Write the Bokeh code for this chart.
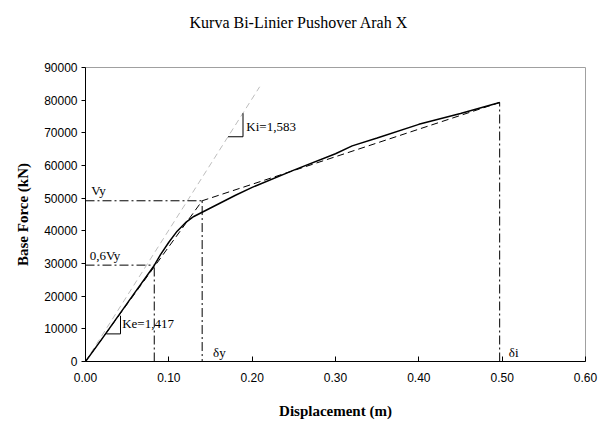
from bokeh.plotting import figure
from bokeh.models import FixedTicker, NumeralTickFormatter, Range1d, Title
from bokeh.core.properties import value
from bokeh.embed import file_html
from bokeh.resources import INLINE

# Pushover capacity curve (displacement m, base force kN)
disp = [0.0, 0.02, 0.04, 0.06, 0.0825, 0.09, 0.10, 0.11, 0.12, 0.13, 0.14, 0.15,
        0.16, 0.18, 0.20, 0.25, 0.30, 0.32, 0.35, 0.40, 0.45, 0.497]
force = [0, 7000, 14200, 21400, 29400, 32700, 36500, 39900, 42500, 44400, 45700, 47000,
         48300, 50900, 53300, 58600, 63600, 66000, 68400, 72600, 75900, 79300]

# Bi-linear idealisation
bil_x = [0.0, 0.140, 0.497]
bil_y = [0, 49200, 79300]

# Initial stiffness line
ki_x = [0.0, 0.209]
ki_y = [0, 84100]

vy = 49200
vy06 = 29500
d_y = 0.140
d_06 = 0.0825
d_i = 0.497

x_ticks = [0.0, 0.1, 0.2, 0.3, 0.4, 0.5, 0.6]
y_ticks = [0, 10000, 20000, 30000, 40000, 50000, 60000, 70000, 80000, 90000]

serif = "Liberation Serif"
sans = "Liberation Sans"

p = figure(width=601, height=421, output_backend="svg", toolbar_location=None,
           x_range=Range1d(0, 0.6), y_range=Range1d(0, 90000),
           min_border_left=85, min_border_right=16, min_border_top=67, min_border_bottom=60,
           title="Kurva Bi-Linier Pushover Arah X")
p.title.align = "left"
p.title.offset = 104
p.title.text_font = serif
p.title.text_font_style = "normal"
p.title.text_font_size = "16px"
p.title.text_color = "black"

# empty spacer between the title and the frame
p.add_layout(Title(text="\u00a0", text_font_size="18px"), "above")

p.grid.visible = False
p.outline_line_color = "#a0a0a0"
p.background_fill_color = "white"
p.border_fill_color = "white"

p.xaxis.ticker = FixedTicker(ticks=x_ticks)
p.xaxis.formatter = NumeralTickFormatter(format="0.00")
p.yaxis.ticker = FixedTicker(ticks=y_ticks)
p.yaxis.formatter = NumeralTickFormatter(format="0")
for ax in (p.xaxis, p.yaxis):
    ax.minor_tick_line_color = None
    ax.axis_line_color = "black"
    ax.major_tick_line_color = "black"
    ax.major_label_text_font = sans
    ax.major_label_text_font_size = "12px"
    ax.major_label_text_color = "black"
    ax.axis_label_text_font = serif
    ax.axis_label_text_font_style = "bold"
    ax.axis_label_text_font_size = "15px"
    ax.axis_label_text_color = "black"
p.xaxis.major_tick_in = 5
p.xaxis.major_tick_out = 0
p.xaxis.major_label_standoff = 11
p.xaxis.axis_label = "Displacement (m)"
p.xaxis.axis_label_standoff = 18
p.yaxis.major_tick_in = 0
p.yaxis.major_tick_out = 4
p.yaxis.major_label_standoff = 4
p.yaxis.axis_label = "Base Force (kN)"
p.yaxis.axis_label_standoff = 10

# initial stiffness (light grey dashed)
p.line(ki_x, ki_y, line_color="#bdbdbd", line_width=1, line_dash="6 4")

# dash-dot reference lines
dd = "9 3 2 3"
p.line([0, d_y], [vy, vy], line_color="black", line_width=1, line_dash=dd)
p.line([d_y, d_y], [-2000, vy], line_color="black", line_width=1, line_dash=dd)
p.line([0, d_06], [vy06, vy06], line_color="black", line_width=1, line_dash=dd)
p.line([d_06, d_06], [0, vy06], line_color="black", line_width=1, line_dash=dd)
p.line([d_i, d_i], [0, bil_y[-1]], line_color="black", line_width=1, line_dash=dd)

# bilinear (black dashed)
p.line(bil_x, bil_y, line_color="black", line_width=1, line_dash="7 4")

# capacity curve
p.line(disp, force, line_color="black", line_width=1.5)

# slope triangles
p.line([0.025, 0.042, 0.042], [8450, 8450, 14000], line_color="black", line_width=1)
p.line([0.171, 0.189, 0.189], [68800, 68800, 76000], line_color="black", line_width=1)

# labels
lab_x = [0.007, 0.005, 0.044, 0.193, 0.153, 0.508]
lab_y = [50100, 30100, 11600, 71900, 2700, 2700]
lab_t = ["Vy", "0,6Vy", "Ke=1,417", "Ki=1,583", "δy", "δi"]
lab_b = ["bottom", "bottom", "middle", "middle", "middle", "middle"]
p.text(x=lab_x, y=lab_y, text=lab_t, text_font=value(serif), text_font_size="13px",
       text_color="black", text_baseline=lab_b, text_align="left")

open("out.html", "w").write(file_html(p, INLINE))
